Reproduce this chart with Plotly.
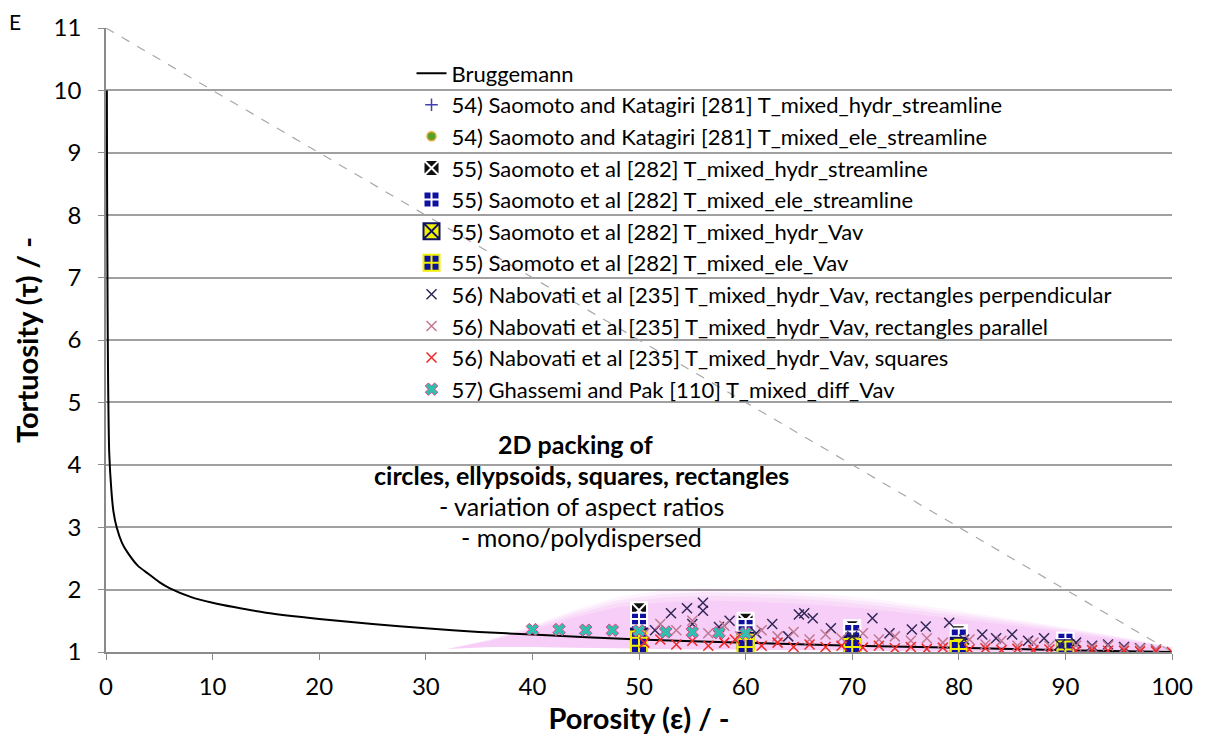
import plotly.graph_objects as go

# Bruggemann relation, tortuosity vs porosity (%)
brug_x = [0.08, 0.1, 0.15, 0.2, 0.3, 0.5, 0.7, 1.0, 1.5, 2, 3, 4, 5, 6, 8, 10, 12, 15,
          20, 25, 30, 35, 40, 50, 60, 70, 80, 90, 100]
brug_y = [10.0, 8.5, 6.5, 5.3, 4.2, 3.6, 3.25, 3.0, 2.75, 2.6, 2.38, 2.25, 2.12, 2.02,
          1.88, 1.79, 1.72, 1.63, 1.53, 1.45, 1.38, 1.32, 1.28, 1.2, 1.15, 1.1, 1.07,
          1.03, 1.0]

# upper bound reference line
bound_x = [0, 100]
bound_y = [11, 1]

# envelope of the 2D packing results
env_x = [32, 36, 40, 44, 48, 52, 56, 60, 64, 68, 72, 80, 88, 95, 100]
env_top = [1.05, 1.2, 1.42, 1.68, 1.88, 1.98, 2.02, 2.0, 1.97, 1.92, 1.85, 1.66, 1.45, 1.25, 1.08]
env_bot = [1.05, 1.08, 1.08, 1.07, 1.06, 1.05, 1.04, 1.04, 1.03, 1.03, 1.02, 1.01, 1.0, 1.0, 1.0]

# 54) Saomoto and Katagiri
sk_hydr_x = [50, 60, 70, 80, 90]
sk_hydr_y = [1.3, 1.25, 1.2, 1.15, 1.1]
sk_ele_x = [50, 60, 70, 80, 90]
sk_ele_y = [1.2, 1.18, 1.12, 1.08, 1.05]

# 55) Saomoto et al
s_hydr_str_x = [50, 50, 60, 60, 70, 70, 80, 90]
s_hydr_str_y = [1.67, 1.45, 1.5, 1.35, 1.38, 1.25, 1.3, 1.18]
s_ele_str_x = [50, 50, 50, 50, 60, 60, 60, 70, 70, 80, 80, 90, 90]
s_ele_str_y = [1.5, 1.4, 1.3, 1.2, 1.4, 1.3, 1.2, 1.32, 1.2, 1.25, 1.12, 1.18, 1.08]
s_hydr_vav_x = [50, 50, 60, 70, 80, 90]
s_hydr_vav_y = [1.25, 1.15, 1.18, 1.12, 1.1, 1.06]
s_ele_vav_x = [50, 50, 60, 60, 70, 80, 90]
s_ele_vav_y = [1.2, 1.1, 1.15, 1.08, 1.08, 1.05, 1.04]

# 56) Nabovati et al
nab_perp_x = [51.5, 53, 54.5, 55, 56, 56, 57.5, 58.5, 61, 62.5, 64, 65, 65.5, 66.3, 68, 70,
              71.9, 73.5, 75.6, 76.9, 79.1, 80.5, 82.2, 83.5, 85, 86.5, 88, 89.5, 91, 92.5,
              94, 95.5, 97, 98.5]
nab_perp_y = [1.35, 1.62, 1.7, 1.45, 1.79, 1.66, 1.4, 1.5, 1.3, 1.45, 1.25, 1.6, 1.62, 1.54,
              1.38, 1.25, 1.54, 1.3, 1.36, 1.41, 1.47, 1.2, 1.28, 1.22, 1.28, 1.18, 1.22,
              1.12, 1.15, 1.1, 1.12, 1.08, 1.06, 1.04]
nab_par_x = [50.5, 52, 53.5, 55, 56.5, 58, 59.5, 61.5, 63, 64.5, 66, 67.5, 69, 71, 72.5, 74,
             75.5, 77, 78.5, 81, 82.5, 84, 85.5, 87, 88.5, 91, 92.5, 94, 95.5, 97, 98.5]
nab_par_y = [1.3, 1.45, 1.35, 1.5, 1.3, 1.42, 1.25, 1.35, 1.25, 1.32, 1.2, 1.28, 1.22, 1.3,
             1.2, 1.25, 1.18, 1.22, 1.15, 1.2, 1.12, 1.18, 1.1, 1.15, 1.1, 1.1, 1.08, 1.1,
             1.06, 1.05, 1.04]
nab_sq_x = [50.5, 52, 53.5, 55, 56.5, 58, 59, 61.5, 63, 64.5, 66, 67.5, 69, 71, 72.5, 74,
            75.5, 77, 78.5, 81, 82.5, 84, 85.5, 87, 88.5, 91, 92.5, 94, 95.5, 97, 98.5, 100]
nab_sq_y = [1.15, 1.2, 1.12, 1.18, 1.1, 1.15, 1.2, 1.1, 1.15, 1.08, 1.12, 1.08, 1.1, 1.07,
            1.1, 1.06, 1.08, 1.05, 1.07, 1.04, 1.06, 1.03, 1.05, 1.03, 1.04, 1.02, 1.03,
            1.02, 1.02, 1.01, 1.01, 1.0]

# 57) Ghassemi and Pak
gp_x = [40, 42.5, 45, 47.5, 50, 52.5, 55, 57.5, 60]
gp_y = [1.36, 1.36, 1.35, 1.35, 1.34, 1.32, 1.32, 1.31, 1.3]

x_ticks = list(range(0, 101, 10))
y_ticks = list(range(1, 12))

FONT = "Lato, Carlito, 'Liberation Sans', sans-serif"

fig = go.Figure()

# soft pink envelope, layered for a blurred edge
for shrink, alpha in [(0.0, 0.08), (0.06, 0.1), (0.12, 0.12), (0.2, 0.12)]:
    top = [b + (t - b) * (1 - shrink) for t, b in zip(env_top, env_bot)]
    fig.add_trace(go.Scatter(x=env_x + env_x[::-1], y=top + env_bot[::-1],
                             fill="toself", mode="none",
                             fillcolor=f"rgba(235,120,235,{alpha})",
                             showlegend=False, hoverinfo="skip"))

fig.add_trace(go.Scatter(x=bound_x, y=bound_y, mode="lines", showlegend=False,
                         line=dict(color="#a8a8a8", width=1.2, dash="dash")))

fig.add_trace(go.Scatter(x=brug_x, y=brug_y, mode="lines", name="Bruggemann",
                         line=dict(color="black", width=2, shape="spline", smoothing=0.6),
                         legendgroup="g0", legendrank=1))

series = [
    ("54) Saomoto and Katagiri [281] T_mixed_hydr_streamline", sk_hydr_x, sk_hydr_y,
     dict(symbol="cross-thin-open", size=9, color="#4040b0", line=dict(width=1.5, color="#4040b0"))),
    ("54) Saomoto and Katagiri [281] T_mixed_ele_streamline", sk_ele_x, sk_ele_y,
     dict(symbol="circle", size=9, color="#58a028", line=dict(width=1.5, color="#f0a830"))),
    ("55) Saomoto et al [282] T_mixed_hydr_streamline", s_hydr_str_x, s_hydr_str_y,
     dict(symbol="square-x", size=16, color="#101010", line=dict(width=2, color="white"))),
    ("55) Saomoto et al [282] T_mixed_ele_streamline", s_ele_str_x, s_ele_str_y,
     dict(symbol="square-cross", size=16, color="#1010a0", line=dict(width=2, color="white"))),
    ("55) Saomoto et al [282] T_mixed_hydr_Vav", s_hydr_vav_x, s_hydr_vav_y,
     dict(symbol="square-x", size=16, color="#f0f000", line=dict(width=2, color="#101060"))),
    ("55) Saomoto et al [282] T_mixed_ele_Vav", s_ele_vav_x, s_ele_vav_y,
     dict(symbol="square-cross", size=16, color="#1010a0", line=dict(width=2, color="#f0f000"))),
    ("56) Nabovati et al [235] T_mixed_hydr_Vav, rectangles perpendicular", nab_perp_x, nab_perp_y,
     dict(symbol="x-thin-open", size=10, color="#302858", line=dict(width=1.5, color="#302858"))),
    ("56) Nabovati et al [235] T_mixed_hydr_Vav, rectangles parallel", nab_par_x, nab_par_y,
     dict(symbol="x-thin-open", size=10, color="#c07890", line=dict(width=1.5, color="#c07890"))),
    ("56) Nabovati et al [235] T_mixed_hydr_Vav, squares", nab_sq_x, nab_sq_y,
     dict(symbol="x-thin-open", size=10, color="#f02828", line=dict(width=1.5, color="#f02828"))),
    ("57) Ghassemi and Pak [110] T_mixed_diff_Vav", gp_x, gp_y,
     dict(symbol="x", size=11, color="#30c0b0", line=dict(width=1, color="#e04080"))),
]
for i, (name, xs, ys, mk) in enumerate(series, start=2):
    fig.add_trace(go.Scatter(x=xs, y=ys, mode="markers", name=name, marker=mk,
                             legendgroup=f"g{i}", legendrank=i))

notes = [
    ("<b>2D packing of</b>", 44.0, 4.33),
    ("<b>circles, ellypsoids, squares, rectangles</b>", 44.6, 3.84),
    ("- variation of aspect ratios", 44.6, 3.34),
    ("- mono/polydispersed", 44.6, 2.85),
]
for txt, xv, yv in notes:
    fig.add_annotation(x=xv, y=yv, xref="x", yref="y", text=txt, showarrow=False,
                       font=dict(family=FONT, size=25, color="black"))

fig.add_annotation(x=-0.085, y=1.01, xref="paper", yref="paper", text="E", showarrow=False,
                   xanchor="center", yanchor="middle",
                   font=dict(family=FONT, size=21, color="black"))

fig.update_layout(
    width=1206, height=740,
    margin=dict(l=106, r=34, t=25, b=88),
    paper_bgcolor="white", plot_bgcolor="white",
    font=dict(family=FONT, color="black"),
    legend=dict(x=0.2866, y=0.961, xanchor="left", yanchor="top",
                bgcolor="rgba(0,0,0,0)", font=dict(family=FONT, size=22),
                tracegroupgap=0, itemsizing="trace"),
    xaxis=dict(range=[0, 100], tickvals=x_ticks, showgrid=False, zeroline=False,
               showline=True, linecolor="#8a8a8a", linewidth=1.5,
               ticks="outside", ticklen=6, tickcolor="#8a8a8a",
               ticklabelstandoff=6,
               tickfont=dict(family=FONT, size=24),
               title=dict(text="<b>Porosity (ε) / -</b>", font=dict(family=FONT, size=29),
                          standoff=4)),
    yaxis=dict(range=[1, 11], tickvals=y_ticks, showgrid=True, gridcolor="#a0a0a0",
               gridwidth=1.5, zeroline=False, showline=True, linecolor="#8a8a8a",
               linewidth=1.5, ticks="outside", ticklen=6, tickcolor="#8a8a8a",
               ticklabelstandoff=12,
               tickfont=dict(family=FONT, size=24),
               title=dict(text="<b>Tortuosity (τ) / -</b>", font=dict(family=FONT, size=29),
                          standoff=6)),
)

fig.write_html("out.html")
